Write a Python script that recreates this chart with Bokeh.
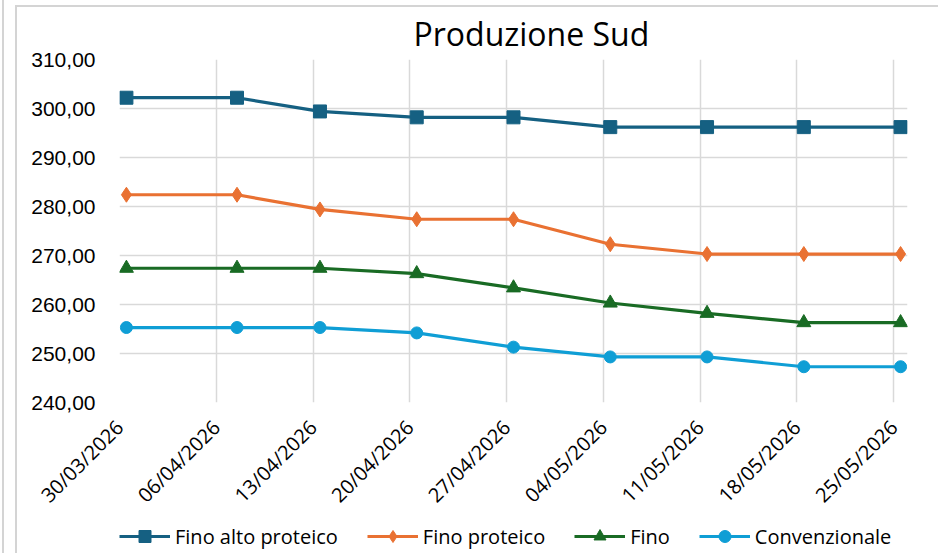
import pandas as pd
from bokeh.plotting import figure
from bokeh.layouts import column
from bokeh.models import (FixedTicker, DatetimeTickFormatter, Legend, LegendItem,
                          Range1d, ColumnDataSource, InlineStyleSheet)
from bokeh.embed import file_html
from bokeh.resources import INLINE

# ---- data ----
dates = ["30/03/2026", "07/04/2026", "13/04/2026", "20/04/2026", "27/04/2026",
         "04/05/2026", "11/05/2026", "18/05/2026", "25/05/2026"]
tick_dates = ["30/03/2026", "06/04/2026", "13/04/2026", "20/04/2026", "27/04/2026",
              "04/05/2026", "11/05/2026", "18/05/2026", "25/05/2026"]
fino_alto_proteico = [302.2, 302.2, 299.4, 298.2, 298.2, 296.2, 296.2, 296.2, 296.2]
fino_proteico = [282.4, 282.4, 279.4, 277.4, 277.4, 272.3, 270.3, 270.3, 270.3]
fino = [267.4, 267.4, 267.4, 266.3, 263.4, 260.3, 258.2, 256.3, 256.3]
convenzionale = [255.3, 255.3, 255.3, 254.2, 251.3, 249.3, 249.3, 247.3, 247.3]
y_ticks = [240, 250, 260, 270, 280, 290, 300, 310]
y_tick_labels = ["240,00", "250,00", "260,00", "270,00", "280,00", "290,00", "300,00", "310,00"]
series_names = ["Fino alto proteico", "Fino proteico", "Fino", "Convenzionale"]
series_colors = ["#156082", "#E97132", "#196B24", "#0F9ED5"]

# Excel date axis puts points in the middle of their day
x = pd.to_datetime(dates, dayfirst=True) + pd.Timedelta(hours=12)
ticks = pd.to_datetime(tick_dates, dayfirst=True)
tick_ms = [t.value // 10**6 for t in ticks]
x_start, x_end = ticks[0], ticks[-1] + pd.Timedelta(days=1)

fig = figure(output_backend="svg", toolbar_location=None, x_axis_type="datetime",
             width=926, height=520, frame_width=788, frame_height=343,
             min_border_left=119, min_border_right=19, min_border_top=59, min_border_bottom=100,
             x_range=Range1d(x_start, x_end),
             y_range=Range1d(y_ticks[0], y_ticks[-1]),
             background_fill_color="white", border_fill_color="white")
fig.outline_line_color = None

fig.title.text = "Produzione Sud"
fig.title.align = "left"
fig.title.offset = 294
fig.title.text_font = "Open Sans"
fig.title.text_font_size = "32px"
fig.title.text_font_style = "normal"
fig.title.text_color = "#000000"

# axes
fig.xaxis.ticker = FixedTicker(ticks=tick_ms)
fmt = "%d/%m/%Y"
fig.xaxis.formatter = DatetimeTickFormatter(milliseconds=fmt, seconds=fmt, minsec=fmt, minutes=fmt,
                                            hourmin=fmt, hours=fmt, days=fmt, months=fmt, years=fmt)
fig.xaxis.major_label_orientation = 0.785398
fig.xaxis.major_label_text_font = "Open Sans"
fig.xaxis.major_label_text_font_size = "20px"
fig.xaxis.major_label_standoff = 21
fig.yaxis.ticker = FixedTicker(ticks=y_ticks)
fig.yaxis.major_label_overrides = {t: l for t, l in zip(y_ticks, y_tick_labels)}
fig.yaxis.major_label_text_font = "Liberation Sans"
fig.yaxis.major_label_text_font_size = "21px"
fig.yaxis.major_label_standoff = 24
for ax in (fig.xaxis, fig.yaxis):
    ax.axis_line_color = None
    ax.major_tick_line_color = None
    ax.minor_tick_line_color = None
    ax.major_tick_out = 0
    ax.major_tick_in = 0
    ax.minor_tick_out = 0
    ax.minor_tick_in = 0
    ax.major_label_text_color = "#000000"

fig.grid.grid_line_color = "#D9D9D9"
fig.grid.grid_line_width = 1.5

markers = [dict(marker="square", size=13),
           dict(marker="diamond", size=15),
           dict(marker="triangle", size=14),
           dict(marker="circle", size=12)]

# legend strip below the chart (same series, drawn out of its visible y-range)
leg_fig = figure(output_backend="svg", toolbar_location=None, x_axis_type="datetime",
                 width=926, height=33, min_border=0,
                 x_axis_location=None, y_axis_location=None,
                 x_range=Range1d(x_start, x_end), y_range=Range1d(0, 1),
                 background_fill_color="white", border_fill_color="white")
leg_fig.outline_line_color = None
leg_fig.grid.visible = False

items = []
for name, vals, color, mk in zip(series_names,
                                 [fino_alto_proteico, fino_proteico, fino, convenzionale],
                                 series_colors, markers):
    src = ColumnDataSource(dict(x=x, y=vals))
    for f in (fig, leg_fig):
        r_line = f.line("x", "y", source=src, line_color=color, line_width=3.2)
        r_pts = f.scatter("x", "y", source=src, marker=mk["marker"], size=mk["size"],
                          fill_color=color, line_color=color)
    items.append(LegendItem(label=name, renderers=[r_line, r_pts]))

legend = Legend(items=items, orientation="horizontal", location=(0, 2),
                label_text_font="Open Sans", label_text_font_size="20px",
                label_text_color="#000000",
                glyph_width=51, glyph_height=30, label_standoff=5, spacing=29,
                padding=0, margin=0, border_line_color=None, background_fill_alpha=0)
leg_fig.add_layout(legend, "center")

# chart-area border lines of the Excel screenshot
fig.stylesheets = [InlineStyleSheet(css="""
:host { position: relative; }
:host::after { content: ""; position: absolute; left: 15px; top: 5px; right: -40px; bottom: -40px;
               border-left: 2px solid #D4D4D4; border-top: 2px solid #D4D4D4;
               pointer-events: none; z-index: 10; }
:host::before { content: ""; position: absolute; left: 2px; top: 0px; width: 2px; bottom: -40px;
                background: #D4D4D4; pointer-events: none; z-index: 10; }
""")]

p = column(fig, leg_fig, spacing=0)

open("out.html", "w").write(file_html(p, INLINE))
